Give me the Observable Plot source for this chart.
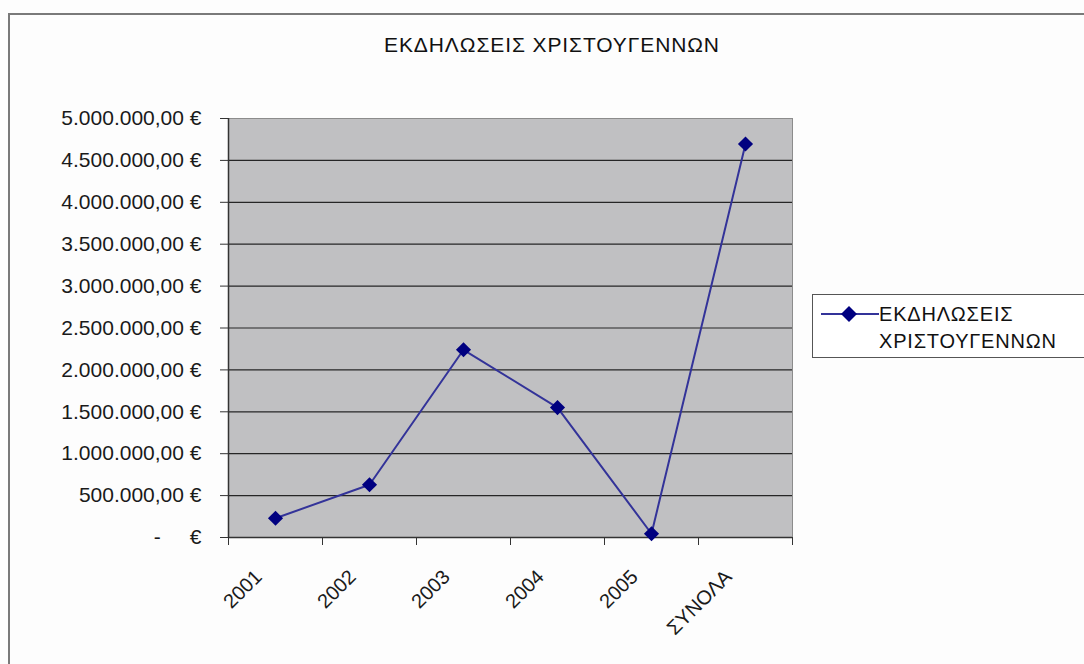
<!DOCTYPE html>
<html>
<head>
<meta charset="utf-8">
<script src="https://cdn.jsdelivr.net/npm/d3@7"></script>
<script src="https://cdn.jsdelivr.net/npm/@observablehq/plot@0.6"></script>
<style>
  html, body { margin: 0; padding: 0; background: #fdfdfd; }
  #wrap { position: relative; width: 1084px; height: 664px; overflow: hidden; font-family: "Liberation Sans", Arial, sans-serif; color: #222; }
  #border { position: absolute; left: 8px; top: 13px; width: 1200px; height: 800px; border-top: 2px solid #7a7a7a; border-left: 2px solid #7a7a7a; }
  #chart { position: absolute; left: 0; top: 0; }
  #chart svg text { white-space: pre; }
  #title { position: absolute; left: 0; width: 1104px; top: 33px; text-align: center; font-size: 21px; letter-spacing: 0.9px; color: #111; }
  #legend { position: absolute; left: 812px; top: 294px; width: 300px; height: 62px; border: 1.5px solid #555; background: #fff; }
  #legend svg { position: absolute; left: 6px; top: 8px; }
  #legend .lab { position: absolute; left: 66px; top: 6px; font-size: 20px; line-height: 27px; letter-spacing: 0.8px; color: #111; }
</style>
</head>
<body>
<div id="wrap">
  <div id="border"></div>
  <div id="chart"></div>
  <div id="title"></div>
  <div id="legend">
    <svg width="60" height="24"><line x1="2" y1="11" x2="60" y2="11" stroke="#333399" stroke-width="2"/><path d="M30,3 L38,11 L30,19 L22,11 Z" fill="#000080"/></svg>
    <div class="lab"></div>
  </div>
</div>
<script>
const title = "ΕΚΔΗΛΩΣΕΙΣ ΧΡΙΣΤΟΥΓΕΝΝΩΝ";
const seriesName = ["ΕΚΔΗΛΩΣΕΙΣ", "ΧΡΙΣΤΟΥΓΕΝΝΩΝ"];
const categories = ["2001", "2002", "2003", "2004", "2005", "ΣΥΝΟΛΑ"];
const values = [230000, 630000, 2240000, 1550000, 45000, 4695000];
const yTicks = [0, 500000, 1000000, 1500000, 2000000, 2500000, 3000000, 3500000, 4000000, 4500000, 5000000];

document.getElementById("title").textContent = title;
document.querySelector("#legend .lab").innerHTML = seriesName.join("<br>");

const data = categories.map((c, i) => ({category: c, idx: i + 0.5, value: values[i]}));
const locale = d3.formatLocale({decimal: ",", thousands: ".", grouping: [3], currency: ["", ""]});
const fmt = locale.format(",.2f");
const yFormat = d => d === 0 ? "-     €" : fmt(d) + " €";

const chart = Plot.plot({
  width: 1084,
  height: 664,
  marginLeft: 228,
  marginRight: 292,
  marginTop: 118,
  marginBottom: 127,
  style: {background: "transparent", fontFamily: "Liberation Sans, Arial, sans-serif", color: "#1a1a1a"},
  x: {type: "linear", domain: [0, categories.length], axis: null},
  y: {domain: [0, 5000000], axis: null},
  marks: [
    Plot.frame({fill: "#c0c0c2", stroke: "#8c8c8c", strokeWidth: 1}),
    Plot.ruleY(yTicks.filter(d => d > 0 && d < 5000000), {stroke: "#262626", strokeWidth: 1.2}),
    Plot.ruleX([0], {stroke: "#333", strokeWidth: 1.5}),
    Plot.ruleY([0], {stroke: "#333", strokeWidth: 1.5}),
    Plot.axisY({ticks: yTicks, tickFormat: yFormat, label: null, tickSize: 8, tickPadding: 19, fontSize: 21, stroke: "#333", style: {letterSpacing: "0.9px"}}),
    Plot.axisX({ticks: d3.range(categories.length + 1), tickFormat: () => "", label: null, tickSize: 8, stroke: "#333"}),
    Plot.axisX({ticks: data.map(d => d.idx), tickFormat: d => categories[Math.round(d - 0.5)], label: null, tickSize: 0, tickPadding: 36, tickRotate: -45, dx: -17, fontSize: 20, style: {letterSpacing: "0.5px"}}),
    Plot.line(data, {x: "idx", y: "value", stroke: "#333399", strokeWidth: 2}),
    Plot.dot(data, {x: "idx", y: "value", symbol: "diamond2", r: 6.8, fill: "#000080", stroke: "none"})
  ]
});
document.getElementById("chart").appendChild(chart);
</script>
</body>
</html>
